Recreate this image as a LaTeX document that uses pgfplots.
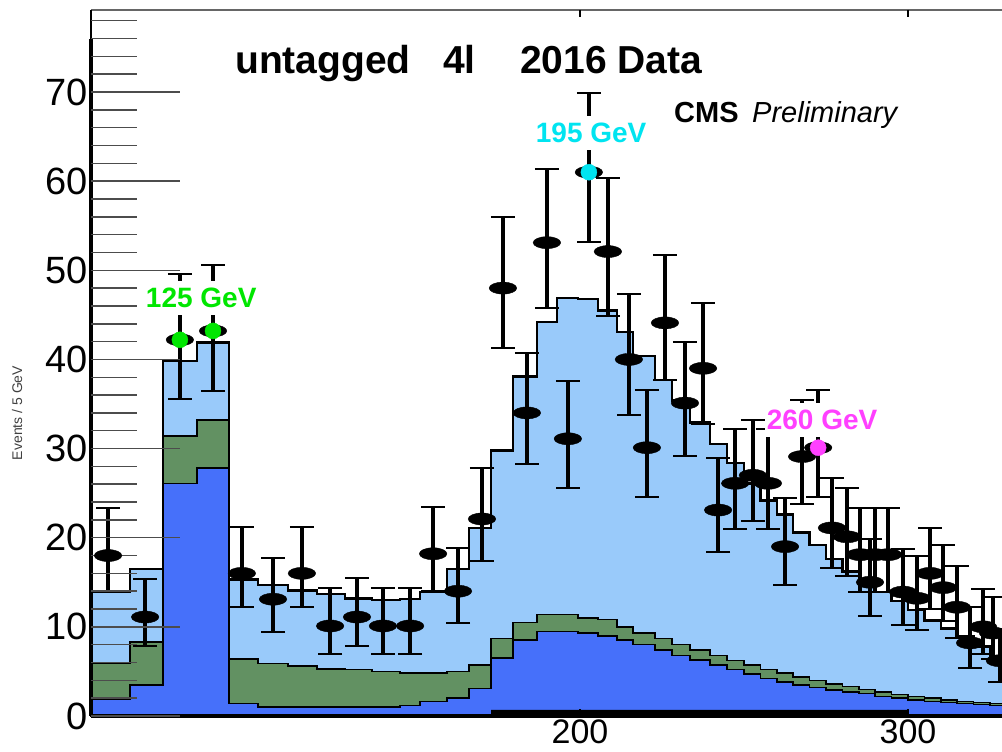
\documentclass[border=0pt]{standalone}
\usepackage{pgfplots}
\pgfplotsset{compat=1.18}
\usepackage{fontspec}
\setmainfont{Liberation Sans}
\definecolor{lb}{RGB}{153,202,250}
\definecolor{gr}{RGB}{98,145,98}
\definecolor{db}{RGB}{70,112,250}
\definecolor{lgreen}{RGB}{0,230,0}
\definecolor{lcyan}{RGB}{0,228,240}
\definecolor{lmag}{RGB}{255,64,255}
\begin{document}
\begin{tikzpicture}[x=1pt,y=1pt]
\begin{axis}[
  at={(91pt,36pt)}, anchor=south west,
  scale only axis, width=921pt, height=706pt,
  xmin=50.9, xmax=331.7, ymin=0, ymax=79.2,
  clip=false,
  axis on top,
  axis line style={draw=none},
  tick align=inside,
  ytick={0,10,...,70}, minor ytick={0,2,...,78},
  ytick pos=left,
  major tick length=89pt, minor tick length=46pt,
  y tick style={black!70, line width=1.5pt},
  xtick={200,300}, xtick style={draw=none},
  /pgf/number format/assume math mode=true,
  yticklabel style={font=\fontsize{38}{40}\selectfont},
  xticklabel style={font=\fontsize{34}{36}\selectfont, yshift=0pt},
]
% total (light blue)
\addplot[const plot, fill=lb, draw=black, line width=2.5pt] coordinates {
(50.9,13.9) (62.8,16.5) (72.9,39.8) (83.2,41.9) (93.0,15.3) (101.8,14.7) (111.0,14.1) (119.8,13.7) (128.4,13.2) (136.6,13.0) (145.1,13.1) (151.2,13.9) (159.5,16.5) (166.2,21.1) (172.9,29.8) (179.6,38.1) (186.9,44.2) (193.0,46.9) (199.4,46.8) (205.5,45.5) (211.3,43.1) (216.2,40.4) (222.9,37.7) (228.0,35.4) (233.5,32.9) (239.6,30.5) (244.8,28.4) (250,26.1) (255,24.2) (260,22.6) (265,20.6) (270,19.2) (275,17.6) (280,16.2) (285,14.9) (290,13.9) (295,12.9) (300,11.9) (305,10.7) (310,9.8) (315,9.0) (320,7.8) (325,6.6) (330,6.0) (335,6.0)
} \closedcycle;
% green
\addplot[const plot, fill=gr, draw=black, line width=1.5pt] coordinates {
(50.9,5.9) (62.8,8.3) (72.9,31.4) (83.2,33.2) (93.0,6.4) (101.8,5.9) (111.0,5.6) (119.8,5.3) (128.4,5.2) (136.6,5.0) (145.1,4.8) (151.2,4.8) (159.5,5.0) (166.2,5.7) (172.9,8.7) (179.6,10.5) (186.9,11.4) (193.0,11.4) (199.4,11.0) (205.5,10.8) (211.3,10.0) (216.2,9.3) (222.9,8.7) (228.0,8.0) (233.5,7.4) (239.6,6.8) (244.8,6.2) (250,5.7) (255,5.2) (260,4.8) (265,4.4) (270,4.0) (275,3.6) (280,3.3) (285,3.0) (290,2.7) (295,2.4) (300,2.2) (305,2.0) (310,1.8) (315,1.6) (320,1.5) (325,1.4) (330,1.3) (335,1.3)
} \closedcycle;
% blue
\addplot[const plot, fill=db, draw=black, line width=1.5pt] coordinates {
(50.9,1.9) (62.8,3.5) (72.9,26.1) (83.2,27.8) (93.0,1.4) (101.8,1.0) (111.0,1.0) (119.8,1.0) (128.4,1.0) (136.6,1.0) (145.1,1.2) (151.2,1.6) (159.5,2.0) (166.2,3.1) (172.9,6.5) (179.6,8.5) (186.9,9.5) (193.0,9.5) (199.4,9.3) (205.5,9.0) (211.3,8.5) (216.2,8.0) (222.9,7.4) (228.0,6.8) (233.5,6.3) (239.6,5.7) (244.8,5.2) (250,4.7) (255,4.2) (260,3.8) (265,3.5) (270,3.2) (275,2.9) (280,2.7) (285,2.5) (290,2.2) (295,2.0) (300,1.8) (305,1.6) (310,1.5) (315,1.4) (320,1.3) (325,1.2) (330,1.1) (335,1.1)
} \closedcycle;
% thin dark strip
\addplot[const plot, fill=black, draw=none] coordinates {(172.9,0.7) (300,0.7)} \closedcycle;
% data
\addplot[only marks, mark=*, mark size=6pt, mark options={xscale=2.3, fill=black, draw=black}, black,
  error bars/.cd, y dir=both, y explicit,
  error bar style={line width=4pt, black},
  error mark options={rotate=90, line width=2pt, mark size=12pt, black}]
coordinates {
(56.1,18.0) += (0,5.3) -= (0,4.0)
(67.4,11.1) += (0,4.3) -= (0,3.2)
(78.0,42.2) += (0,7.4) -= (0,6.6)
(88.1,43.2) += (0,7.4) -= (0,6.7)
(96.9,16.0) += (0,5.2) -= (0,3.8)
(106.4,13.1) += (0,4.6) -= (0,3.7)
(115.2,16.0) += (0,5.2) -= (0,3.8)
(123.8,10.1) += (0,4.3) -= (0,3.1)
(132.0,11.1) += (0,4.4) -= (0,3.2)
(139.9,10.1) += (0,4.3) -= (0,3.1)
(148.2,10.1) += (0,4.3) -= (0,3.1)
(155.2,18.2) += (0,5.2) -= (0,4.2)
(162.8,14.0) += (0,4.8) -= (0,3.6)
(170.1,22.1) += (0,5.7) -= (0,4.7)
(176.5,48.0) += (0,8.0) -= (0,6.7)
(183.8,34.0) += (0,6.7) -= (0,5.7)
(189.9,53.1) += (0,8.3) -= (0,7.3)
(196.3,31.1) += (0,6.5) -= (0,5.5)
(202.7,61.0) += (0,8.9) -= (0,7.8)
(208.5,52.1) += (0,8.3) -= (0,7.2)
(214.9,40.0) += (0,7.3) -= (0,6.2)
(220.4,30.1) += (0,6.5) -= (0,5.5)
(225.9,44.1) += (0,7.6) -= (0,6.4)
(232.0,35.1) += (0,6.9) -= (0,5.9)
(237.5,39.0) += (0,7.3) -= (0,6.2)
(242.1,23.1) += (0,5.8) -= (0,4.7)
(247.3,26.1) += (0,6.1) -= (0,5.1)
(252.7,27.0) += (0,6.2) -= (0,5.1)
(257.3,26.1) += (0,6.1) -= (0,5.1)
(262.5,19.0) += (0,5.4) -= (0,4.3)
(267.7,29.1) += (0,6.4) -= (0,5.3)
(272.6,30.1) += (0,6.5) -= (0,5.5)
(276.8,21.1) += (0,5.6) -= (0,4.5)
(281.4,20.1) += (0,5.5) -= (0,4.4)
(285.4,18.1) += (0,5.2) -= (0,4.2)
(288.4,15.0) += (0,4.9) -= (0,3.8)
(289.9,18.1) += (0,5.2) -= (0,4.2)
(293.9,18.1) += (0,5.2) -= (0,4.2)
(298.5,13.9) += (0,4.8) -= (0,3.7)
(302.7,13.2) += (0,4.7) -= (0,3.6)
(306.7,16.0) += (0,5.1) -= (0,4.0)
(310.7,14.4) += (0,4.8) -= (0,3.7)
(314.9,12.2) += (0,4.6) -= (0,3.5)
(318.9,8.2) += (0,4.0) -= (0,2.8)
(322.9,10.0) += (0,4.3) -= (0,3.1)
(325.9,9.3) += (0,4.1) -= (0,2.9)
(328.0,6.2) += (0,3.6) -= (0,2.4)
};
\addplot[only marks, mark=*, mark size=8pt, lgreen] coordinates {(78.0,42.2) (88.1,43.2)};
\addplot[only marks, mark=*, mark size=8pt, lcyan] coordinates {(202.7,61.0)};
\addplot[only marks, mark=*, mark size=8pt, lmag] coordinates {(272.6,30.1)};
\node[fill=white, inner xsep=2pt, inner ysep=7pt, text=lgreen, font=\bfseries\fontsize{28}{30}\selectfont] at (axis cs:84.5,46.9) {125 GeV};
\node[fill=white, inner xsep=2pt, inner ysep=7pt, text=lcyan, font=\bfseries\fontsize{28}{30}\selectfont] at (axis cs:203.4,65.4) {195 GeV};
\node[fill=white, inner xsep=2pt, inner ysep=7pt, text=lmag, font=\bfseries\fontsize{28}{30}\selectfont] at (axis cs:273.8,33.2) {260 GeV};
% axis lines and x ticks
\draw[line width=1.5pt, black!60] (axis cs:50.9,79.2) -- (axis cs:335,79.2);
\draw[line width=4pt, black] (axis cs:50.9,0) -- (axis cs:50.9,75.9);
\draw[line width=1.5pt, black] (axis cs:50.9,75.9) -- (axis cs:50.9,79.2);
\draw[line width=4pt, black] (axis cs:50.9,0) -- (axis cs:335,0);
\draw[line width=2pt] (axis cs:200,0) -- ++(0pt,7pt);
\draw[line width=2pt] (axis cs:300,0) -- ++(0pt,7pt);
\draw[line width=2pt] (axis cs:200,79.2) -- ++(0pt,-7pt);
\draw[line width=2pt] (axis cs:300,79.2) -- ++(0pt,-7pt);
\end{axis}
\node[anchor=base west, inner sep=0pt, font=\bfseries\fontsize{39}{40}\selectfont] at (235,678) {untagged};
\node[anchor=base west, inner sep=0pt, font=\bfseries\fontsize{39}{40}\selectfont] at (443,678) {4l};
\node[anchor=base west, inner sep=0pt, font=\bfseries\fontsize{39}{40}\selectfont] at (520,678) {2016 Data};
\node[anchor=base west, inner sep=0pt, font=\bfseries\fontsize{29}{30}\selectfont] at (674,629) {CMS};
\node[anchor=base west, inner sep=0pt, font=\itshape\fontsize{29}{30}\selectfont] at (752,629) {Preliminary};
\node[rotate=90, text=black!75, font=\fontsize{14}{15}\selectfont] at (17,339) {Events / 5 GeV};
\pgfresetboundingbox
\path[use as bounding box] (0,0) rectangle (1002,752);
\end{tikzpicture}
\end{document}
